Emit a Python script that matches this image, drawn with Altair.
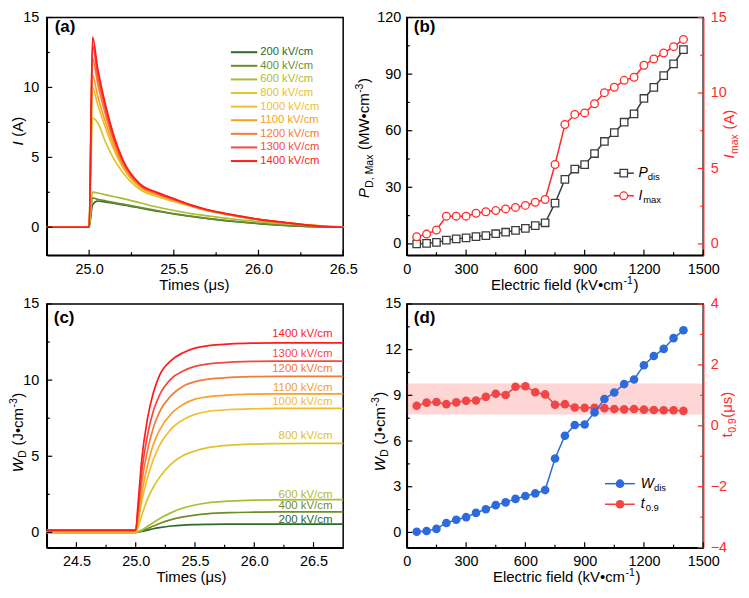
import altair as alt
import pandas as pd

FONT = "Liberation Sans"
RED = "#ff2a2a"
GRAY = "#3c3c3c"
BLUE = "#2d6bdc"
TRED = "#f24545"

# ---------------- panel (a): current transients ----------------
FIELDS = ["200 kV/cm", "400 kV/cm", "600 kV/cm", "800 kV/cm", "1000 kV/cm",
          "1100 kV/cm", "1200 kV/cm", "1300 kV/cm", "1400 kV/cm"]
FIELD_COLORS = ["#2d6a2d", "#6f8d2b", "#abbd30", "#e2c22c", "#f2bd2e",
                "#f7a126", "#f47b35", "#f6473f", "#ff1c1c"]

T_A = [24.75, 24.99, 25.0, 25.02, 25.05, 25.1, 25.15, 25.2, 25.3, 25.4, 25.5,
       25.6, 25.7, 25.8, 25.9, 26.0, 26.1, 26.2, 26.3, 26.4, 26.5]
I_200 = [0, 0, 0, 1.6, 1.88, 1.8, 1.7, 1.6, 1.38, 1.16, 0.95, 0.77, 0.62, 0.48, 0.36, 0.26, 0.17, 0.1, 0.05, 0.02, 0.0]
I_400 = [0, 0, 0, 2.1, 2.0, 1.88, 1.76, 1.65, 1.42, 1.2, 0.98, 0.8, 0.64, 0.5, 0.38, 0.28, 0.19, 0.12, 0.06, 0.02, 0.01]
I_600 = [0, 0, 0, 2.52, 2.45, 2.32, 2.18, 2.05, 1.75, 1.45, 1.2, 0.98, 0.82, 0.66, 0.52, 0.4, 0.3, 0.22, 0.14, 0.06, 0.02]
I_800 = [0, 0, 0, 7.8, 7.5, 6.0, 4.8, 3.9, 2.7, 2.2, 1.85, 1.5, 1.17, 0.93, 0.72, 0.54, 0.4, 0.27, 0.15, 0.07, 0.03]
I_1000 = [0, 0, 0, 10.0, 8.8, 7.0, 5.45, 4.25, 2.85, 2.32, 1.92, 1.53, 1.19, 0.95, 0.74, 0.55, 0.41, 0.28, 0.16, 0.08, 0.03]
I_1100 = [0, 0, 0, 10.9, 9.4, 7.4, 5.7, 4.4, 2.92, 2.36, 1.95, 1.55, 1.2, 0.96, 0.75, 0.55, 0.41, 0.28, 0.15, 0.07, 0.02]
I_1200 = [0, 0, 0, 12.1, 10.3, 7.9, 6.0, 4.55, 2.98, 2.4, 1.97, 1.56, 1.22, 0.97, 0.75, 0.55, 0.4, 0.27, 0.13, 0.05, 0.01]
I_1300 = [0, 0, 0, 13.0, 10.9, 8.3, 6.2, 4.7, 3.05, 2.45, 2.0, 1.58, 1.23, 0.98, 0.76, 0.56, 0.41, 0.27, 0.13, 0.04, 0.0]
I_1400 = [0, 0, 0, 13.6, 11.4, 8.6, 6.4, 4.8, 3.1, 2.5, 2.05, 1.6, 1.25, 1.0, 0.78, 0.57, 0.42, 0.28, 0.13, 0.03, 0.0]
I_CURVES = [I_200, I_400, I_600, I_800, I_1000, I_1100, I_1200, I_1300, I_1400]

# ---------------- panel (c): discharged energy density ----------------
T_C = [24.25, 24.99, 25.0, 25.02, 25.05, 25.1, 25.15, 25.2, 25.3, 25.4, 25.5,
       25.6, 25.8, 26.0, 26.2, 26.5, 26.75]
W_200 = [0, 0, 0, 0.02, 0.06, 0.15, 0.24, 0.31, 0.42, 0.48, 0.51, 0.53, 0.545, 0.55, 0.55, 0.55, 0.55]
W_400 = [0, 0, 0, 0.03, 0.1, 0.26, 0.42, 0.58, 0.84, 1.02, 1.14, 1.22, 1.3, 1.33, 1.35, 1.35, 1.35]
W_600 = [0, 0, 0, 0.05, 0.15, 0.4, 0.65, 0.9, 1.3, 1.6, 1.8, 1.93, 2.06, 2.12, 2.14, 2.15, 2.15]
W_800 = [0, 0, 0, 0.35, 1.1, 2.2, 3.0, 3.6, 4.5, 5.05, 5.35, 5.55, 5.73, 5.8, 5.83, 5.85, 5.85]
W_1000 = [0, 0, 0, 0.7, 2.0, 3.6, 4.8, 5.7, 6.8, 7.4, 7.75, 7.93, 8.07, 8.12, 8.14, 8.15, 8.15]
W_1100 = [0.05, 0.05, 0.05, 0.9, 2.5, 4.4, 5.8, 6.7, 7.8, 8.4, 8.75, 8.9, 9.03, 9.08, 9.1, 9.1, 9.1]
W_1200 = [0.1, 0.1, 0.1, 1.2, 3.2, 5.4, 6.9, 7.9, 9.0, 9.6, 9.9, 10.05, 10.18, 10.23, 10.25, 10.25, 10.25]
W_1300 = [0.15, 0.15, 0.15, 1.5, 3.9, 6.4, 8.0, 9.0, 10.1, 10.6, 10.9, 11.05, 11.18, 11.23, 11.25, 11.25, 11.25]
W_1400 = [0.15, 0.15, 0.15, 1.9, 4.7, 7.5, 9.2, 10.3, 11.3, 11.8, 12.1, 12.25, 12.38, 12.43, 12.45, 12.45, 12.45]
W_CURVES = [W_200, W_400, W_600, W_800, W_1000, W_1100, W_1200, W_1300, W_1400]
C_LABEL_Y = [0.79, 1.73, 2.47, 6.33, 8.55, 9.5, 10.7, 11.7, 13.0]

# ---------------- panels (b), (d): versus electric field ----------------
E = [50, 100, 150, 200, 250, 300, 350, 400, 450, 500, 550, 600, 650, 700,
     750, 800, 850, 900, 950, 1000, 1050, 1100, 1150, 1200, 1250, 1300, 1350, 1400]
P_DIS = [0.0, 0.3, 0.8, 2.0, 2.7, 3.2, 3.9, 4.4, 5.4, 6.2, 7.2, 8.2, 9.7, 11.2,
         21.6, 34.2, 39.7, 42.0, 47.9, 54.3, 59.0, 64.5, 68.9, 77.1, 83.0, 89.2, 95.4, 103.0]
I_MAX = [0.48, 0.65, 0.92, 1.84, 1.84, 1.84, 2.03, 2.13, 2.21, 2.32, 2.42, 2.55, 2.76, 2.94,
         5.26, 7.91, 8.58, 8.68, 9.29, 10.02, 10.38, 10.84, 11.04, 11.84, 12.25, 12.65, 13.07, 13.55]
W_DIS = [0.04, 0.09, 0.23, 0.62, 0.83, 1.0, 1.28, 1.52, 1.79, 1.97, 2.2, 2.39, 2.56, 2.78,
         4.85, 6.35, 7.05, 7.09, 7.88, 8.76, 9.19, 9.74, 10.04, 10.98, 11.58, 12.05, 12.76, 13.27]
T09 = [0.66, 0.76, 0.78, 0.71, 0.77, 0.82, 0.83, 0.95, 1.05, 1.01, 1.28, 1.30, 1.10, 1.03,
       0.69, 0.71, 0.60, 0.59, 0.59, 0.58, 0.55, 0.54, 0.55, 0.53, 0.52, 0.51, 0.51, 0.49]
T09_BAND = [0.37, 1.39]

# ---------------- tick values ----------------
TA_MAJ, TA_MIN = [25.0, 25.5, 26.0, 26.5], [25.25, 25.75, 26.25]
TC_MAJ, TC_MIN = [24.5, 25.0, 25.5, 26.0, 26.5], [24.75, 25.25, 25.75, 26.25]
IA_MAJ, IA_MIN = [0, 5, 10, 15], [2.5, 7.5, 12.5]
E_MAJ, E_MIN = [0, 300, 600, 900, 1200, 1500], [150, 450, 750, 1050, 1350]
PB_MAJ, PB_MIN = [0, 30, 60, 90, 120], [15, 45, 75, 105]
IB_MAJ, IB_MIN = [0, 5, 10, 15], [2.5, 7.5, 12.5]
WC_MAJ, WC_MIN = [0, 5, 10, 15], [2.5, 7.5, 12.5]
WD_MAJ, WD_MIN = [0, 3, 6, 9, 12, 15], [1.5, 4.5, 7.5, 10.5, 13.5]
TD_MAJ, TD_MIN = [-4, -2, 0, 2, 4], [-3, -1, 1, 3]

# ---------------- layout ----------------
WA, HA = 298, 239
WB, HB = 298, 239
WC, HC = 298, 245
WD, HD = 298, 245
XT = 35          # x-title baseline below the plot
XPAD = 7         # x tick-label padding
MAJ, MIN = 5.5, 3
LBL = 14.5

CW = {" ": 278, "(": 333, ")": 333, ",": 278, ".": 278, "-": 333, "/": 278,
      "A": 667, "D": 722, "E": 667, "I": 278, "J": 500, "M": 833, "P": 667, "T": 611,
      "V": 667, "W": 944, "a": 556, "c": 500, "d": 556, "e": 556, "f": 278, "i": 222,
      "k": 500, "l": 222, "m": 833, "r": 333, "s": 500, "t": 278, "x": 500,
      "\u03bc": 576, "\u2022": 350}


def tw(s, size):
    return sum(CW.get(ch, 556) for ch in s) * size / 1000.0


ONE = pd.DataFrame({"k": [0]})


def txt(text, x, y, size, italic=False, bold=False, angle=None, color="black",
        align="left", baseline="alphabetic"):
    kw = dict(text=text, font=FONT, fontSize=size, color=color, align=align, baseline=baseline)
    if italic:
        kw["fontStyle"] = "italic"
    if bold:
        kw["fontWeight"] = "bold"
    if angle is not None:
        kw["angle"] = angle
    return alt.Chart(ONE).mark_text(**kw).encode(x=alt.value(x), y=alt.value(y))


def rich(parts, x, y, rotate=False, color="black"):
    total = sum(tw(p[0], p[1]) + 0.5 for p in parts)
    pos = -total / 2.0
    out = []
    for text, size, italic, shift in parts:
        lead = len(text) - len(text.lstrip(" "))
        pos += tw(" " * lead, size)
        body = text.lstrip(" ")
        if rotate:
            out.append(txt(body, x + shift, y - pos, size, italic, angle=270, color=color))
        else:
            out.append(txt(body, x + pos, y + shift, size, italic, color=color))
        pos += tw(body, size) + 0.5
    return out


def lin(lo, hi):
    return alt.Scale(domain=[lo, hi], nice=False, zero=False)


def ax(vals, fmt, orient, color="black", pad=7):
    return alt.Axis(values=vals, format=fmt, title=None, ticks=False, labelPadding=pad,
                    labelColor=color, domainColor=color, orient=orient, labelFont=FONT,
                    labelFontSize=LBL, domainWidth=1.5, grid=False, labelFlush=False)


def xticks(vals, sx, H, length, color="black"):
    return alt.Chart(pd.DataFrame({"v": vals})).mark_rule(color=color, strokeWidth=1.2).encode(
        x=alt.X("v:Q", scale=sx[0], axis=sx[1]), y=alt.value(H), y2=alt.value(H - length))


def yticks(vals, sy, x0, length, color="black"):
    return alt.Chart(pd.DataFrame({"v": vals})).mark_rule(color=color, strokeWidth=1.2).encode(
        y=alt.Y("v:Q", scale=sy[0], axis=sy[1]), x=alt.value(x0), x2=alt.value(x0 + length))


def pt(df, sx, sy, xf, yf, **mk):
    return alt.Chart(df).mark_point(opacity=1, **mk).encode(
        x=alt.X(xf, scale=sx[0], axis=sx[1]), y=alt.Y(yf, scale=sy[0], axis=sy[1]))


def legend_text(text, x, y, sx, sy, size, italic=False, dx=0, dy=0):
    kw = dict(text=text, font=FONT, fontSize=size, align="left", baseline="middle", dx=dx, dy=dy,
              color="black")
    if italic:
        kw["fontStyle"] = "italic"
    return alt.Chart(pd.DataFrame({"x": [x], "y": [y]})).mark_text(**kw).encode(
        x=alt.X("x:Q", scale=sx[0], axis=sx[1]), y=alt.Y("y:Q", scale=sy[0], axis=sy[1]))


def legend_line(x0, x1, y, sx, sy, color):
    return alt.Chart(pd.DataFrame({"x0": [x0], "x1": [x1], "y": [y]})).mark_rule(
        color=color, strokeWidth=1.5).encode(
        x=alt.X("x0:Q", scale=sx[0], axis=sx[1]), x2="x1:Q", y=alt.Y("y:Q", scale=sy[0], axis=sy[1]))


VIEW = alt.ViewBackground(stroke="black", strokeWidth=1.5)

# ================= panel (a) =================
SXA = (lin(24.75, 26.5), ax(TA_MAJ, ".1f", "bottom", pad=XPAD))
SYA = (lin(-2, 15), ax(IA_MAJ, "d", "left", pad=8))
rows_a = []
for f, vals in zip(FIELDS, I_CURVES):
    for t, v in zip(T_A, vals):
        rows_a.append({"t": t, "I": v, "field": f})
df_a = pd.DataFrame(rows_a)
cscale = alt.Scale(domain=FIELDS, range=FIELD_COLORS)

lines_a = alt.Chart(df_a).mark_line(strokeWidth=1.7, interpolate="monotone").encode(
    x=alt.X("t:Q", scale=SXA[0], axis=SXA[1]),
    y=alt.Y("I:Q", scale=SYA[0], axis=SYA[1]),
    color=alt.Color("field:N", scale=cscale, legend=None))

leg_a = pd.DataFrame({"field": FIELDS,
                      "x0": [25.837] * 9, "x1": [25.993] * 9, "xt": [26.01] * 9,
                      "y": [12.52 - 0.973 * k for k in range(9)]})
leg_a_lines = alt.Chart(leg_a).mark_rule(strokeWidth=2).encode(
    x=alt.X("x0:Q", scale=SXA[0], axis=SXA[1]), x2="x1:Q",
    y=alt.Y("y:Q", scale=SYA[0], axis=SYA[1]),
    color=alt.Color("field:N", scale=cscale, legend=None))
leg_a_text = alt.Chart(leg_a).mark_text(align="left", baseline="middle", font=FONT, fontSize=11.3).encode(
    x=alt.X("xt:Q", scale=SXA[0], axis=SXA[1]), y=alt.Y("y:Q", scale=SYA[0], axis=SYA[1]),
    text="field:N", color=alt.Color("field:N", scale=cscale, legend=None))

panel_a = alt.layer(
    lines_a, leg_a_lines, leg_a_text,
    xticks(TA_MAJ, SXA, HA, MAJ), xticks(TA_MIN, SXA, HA, MIN),
    yticks(IA_MAJ, SYA, 0, MAJ), yticks(IA_MIN, SYA, 0, MIN),
    txt("(a)", 8, 15, 17, bold=True),
    *rich([("I", 15, True, 0), (" (A)", 15, False, 0)], -24, 114, rotate=True),
    *rich([("Times (\u03bcs)", 15, False, 0)], WA / 2, HA + XT),
).properties(width=WA, height=HA, view=VIEW)

# ================= panel (b) =================
SXB = (lin(0, 1500), ax(E_MAJ, "d", "bottom", pad=XPAD))
SYB = (lin(-6, 120), ax(PB_MAJ, "d", "left", pad=6))
SYBR = (lin(-0.75, 15), ax(IB_MAJ, "d", "right", color=RED, pad=7))
df_b = pd.DataFrame({"E": E, "P": P_DIS, "I": I_MAX})

b_left = alt.layer(
    alt.Chart(df_b).mark_line(color=GRAY, strokeWidth=1.5).encode(
        x=alt.X("E:Q", scale=SXB[0], axis=SXB[1]), y=alt.Y("P:Q", scale=SYB[0], axis=SYB[1])),
    pt(df_b, SXB, SYB, "E:Q", "P:Q", shape="square", size=56, filled=True, fill="white",
       stroke=GRAY, strokeWidth=1.3),
    xticks(E_MAJ, SXB, HB, MAJ), xticks(E_MIN, SXB, HB, MIN),
    yticks(PB_MAJ, SYB, 0, MAJ), yticks(PB_MIN, SYB, 0, MIN),
    legend_line(1048, 1149, 37.5, SXB, SYB, GRAY),
    legend_line(1048, 1149, 25.5, SXB, SYB, RED),
    pt(pd.DataFrame({"x": [1098], "y": [37.5]}), SXB, SYB, "x:Q", "y:Q", shape="square", size=56,
       filled=True, fill="white", stroke=GRAY, strokeWidth=1.3),
    pt(pd.DataFrame({"x": [1098], "y": [25.5]}), SXB, SYB, "x:Q", "y:Q", shape="circle", size=60,
       filled=True, fill="white", stroke=RED, strokeWidth=1.3),
    legend_text("P", 1172, 37.5, SXB, SYB, 14, italic=True),
    legend_text("dis", 1172, 37.5, SXB, SYB, 9.5, dx=tw("P", 14), dy=4),
    legend_text("I", 1172, 25.5, SXB, SYB, 14, italic=True),
    legend_text("max", 1172, 25.5, SXB, SYB, 9.5, dx=tw("I", 14) + 1, dy=4),
    txt("(b)", 7, 15, 17, bold=True),
    *rich([("P", 15, True, 0), ("D, Max", 10.5, False, 3.5), (" (MW\u2022cm", 15, False, 0),
           ("-3", 10.5, False, -6), (")", 15, False, 0)], -38, 121, rotate=True),
    *rich([("Electric field (kV\u2022cm", 15, False, 0), ("-1", 10.5, False, -6), (")", 15, False, 0)],
          159, HB + XT),
)
b_right = alt.layer(
    alt.Chart(df_b).mark_line(color=RED, strokeWidth=1.5).encode(
        x=alt.X("E:Q", scale=SXB[0], axis=SXB[1]), y=alt.Y("I:Q", scale=SYBR[0], axis=SYBR[1])),
    pt(df_b, SXB, SYBR, "E:Q", "I:Q", shape="circle", size=60, filled=True, fill="white",
       stroke=RED, strokeWidth=1.3),
    yticks(IB_MAJ, SYBR, WB, -MAJ, RED), yticks(IB_MIN, SYBR, WB, -MIN, RED),
    *rich([("I", 15, True, 0), ("max", 10.5, False, 3.5), (" (A)", 15, False, 0)],
          WB + 31, 117, rotate=True, color=RED),
)
panel_b = alt.layer(b_left, b_right).resolve_scale(y="independent").properties(
    width=WB, height=HB, view=VIEW)

# ================= panel (c) =================
SXC = (lin(24.25, 26.75), ax(TC_MAJ, ".1f", "bottom", pad=XPAD))
SYC = (lin(-1, 15), ax(WC_MAJ, "d", "left", pad=8))
rows_c = []
for f, vals in zip(FIELDS, W_CURVES):
    for t, v in zip(T_C, vals):
        rows_c.append({"t": t, "W": v, "field": f})
df_c = pd.DataFrame(rows_c)
lab_c = pd.DataFrame({"field": FIELDS, "x": [26.66] * 9, "y": C_LABEL_Y})

panel_c = alt.layer(
    alt.Chart(df_c).mark_line(strokeWidth=1.7, interpolate="monotone").encode(
        x=alt.X("t:Q", scale=SXC[0], axis=SXC[1]),
        y=alt.Y("W:Q", scale=SYC[0], axis=SYC[1]),
        color=alt.Color("field:N", scale=cscale, legend=None)),
    alt.Chart(lab_c).mark_text(align="right", baseline="middle", font=FONT, fontSize=11.5).encode(
        x=alt.X("x:Q", scale=SXC[0], axis=SXC[1]), y=alt.Y("y:Q", scale=SYC[0], axis=SYC[1]),
        text="field:N", color=alt.Color("field:N", scale=cscale, legend=None)),
    xticks(TC_MAJ, SXC, HC, MAJ), xticks(TC_MIN, SXC, HC, MIN),
    yticks(WC_MAJ, SYC, 0, MAJ), yticks(WC_MIN, SYC, 0, MIN),
    txt("(c)", 7, 19, 17, bold=True),
    *rich([("W", 15, True, 0), ("D", 10.5, False, 3.5), (" (J\u2022cm", 15, False, 0),
           ("-3", 10.5, False, -6), (")", 15, False, 0)], -24, 129, rotate=True),
    *rich([("Times (\u03bcs)", 15, False, 0)], 146, HC + XT),
).properties(width=WC, height=HC, view=VIEW)

# ================= panel (d) =================
SXD = (lin(0, 1500), ax(E_MAJ, "d", "bottom", pad=XPAD))
SYD = (lin(-1, 15), ax(WD_MAJ, "d", "left", pad=6))
SYDR = (lin(-4, 4), ax(TD_MAJ, "d", "right", color=RED, pad=7))
df_d = pd.DataFrame({"E": E, "W": W_DIS, "T": T09})

d_right = alt.layer(
    alt.Chart(pd.DataFrame({"lo": [T09_BAND[0]], "hi": [T09_BAND[1]]})).mark_rect(
        color="#ff3030", opacity=0.2).encode(
        x=alt.value(0), x2=alt.value(WD),
        y=alt.Y("lo:Q", scale=SYDR[0], axis=SYDR[1]), y2="hi:Q"),
    alt.Chart(df_d).mark_line(color=TRED, strokeWidth=1.5).encode(
        x=alt.X("E:Q", scale=SXD[0], axis=SXD[1]), y=alt.Y("T:Q", scale=SYDR[0], axis=SYDR[1])),
    pt(df_d, SXD, SYDR, "E:Q", "T:Q", shape="circle", size=75, filled=True, color=TRED),
    yticks(TD_MAJ, SYDR, WD, -MAJ, RED), yticks(TD_MIN, SYDR, WD, -MIN, RED),
    *rich([("t", 15, False, 0), ("0.9", 10.5, False, 3.5), ("(\u03bcs)", 15, False, 0)],
          WD + 29, 111, rotate=True, color=RED),
)
d_left = alt.layer(
    alt.Chart(df_d).mark_line(color=BLUE, strokeWidth=1.5).encode(
        x=alt.X("E:Q", scale=SXD[0], axis=SXD[1]), y=alt.Y("W:Q", scale=SYD[0], axis=SYD[1])),
    pt(df_d, SXD, SYD, "E:Q", "W:Q", shape="circle", size=75, filled=True, color=BLUE),
    xticks(E_MAJ, SXD, HD, MAJ), xticks(E_MIN, SXD, HD, MIN),
    yticks(WD_MAJ, SYD, 0, MAJ), yticks(WD_MIN, SYD, 0, MIN),
    legend_line(1003, 1154, 3.2, SXD, SYD, BLUE),
    legend_line(1003, 1154, 1.85, SXD, SYD, TRED),
    pt(pd.DataFrame({"x": [1079], "y": [3.2]}), SXD, SYD, "x:Q", "y:Q", shape="circle", size=75,
       filled=True, color=BLUE),
    pt(pd.DataFrame({"x": [1079], "y": [1.85]}), SXD, SYD, "x:Q", "y:Q", shape="circle", size=75,
       filled=True, color=TRED),
    legend_text("W", 1184, 3.2, SXD, SYD, 14, italic=True),
    legend_text("dis", 1184, 3.2, SXD, SYD, 9.5, dx=tw("W", 14), dy=4),
    legend_text("t", 1184, 1.85, SXD, SYD, 14, italic=True),
    legend_text("0.9", 1184, 1.85, SXD, SYD, 9.5, dx=tw("t", 14) + 1, dy=4),
    txt("(d)", 7, 19, 17, bold=True),
    *rich([("W", 15, True, 0), ("D", 10.5, False, 3.5), (" (J\u2022cm", 15, False, 0),
           ("-3", 10.5, False, -6), (")", 15, False, 0)], -22, 128, rotate=True),
    *rich([("Electric field (kV\u2022cm", 15, False, 0), ("-1", 10.5, False, -6), (")", 15, False, 0)],
          161, HD + XT),
)
panel_d = alt.layer(d_right, d_left).resolve_scale(y="independent").properties(
    width=WD, height=HD, view=VIEW)

chart = alt.concat(panel_a, panel_b, panel_c, panel_d, columns=2,
                   spacing={"row": 49, "column": 64}, bounds="flush").properties(
    padding={"left": 0, "top": -1, "right": 0, "bottom": 0}, background="white"
).configure_view(stroke="black", strokeWidth=1.5).configure_axis(
    labelFont=FONT, labelFontSize=LBL, labelColor="black", domainWidth=1.5,
    grid=False, labelFlush=False
)

chart.save("out.html", embed_options={"renderer": "svg", "actions": False})
